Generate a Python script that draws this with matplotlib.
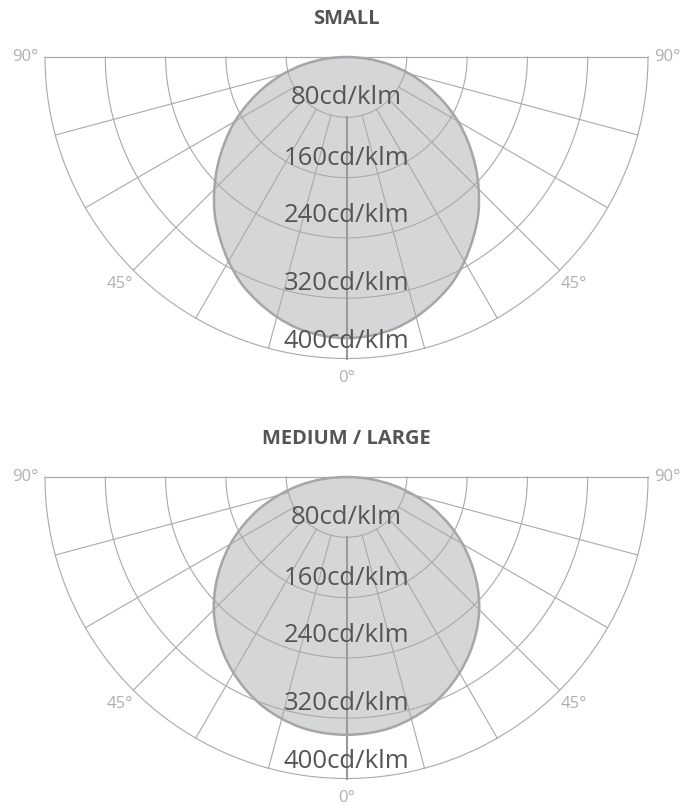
import numpy as np
import matplotlib
matplotlib.use("Agg")
import matplotlib.pyplot as plt
from matplotlib.path import Path
from matplotlib.patches import PathPatch

# ---- data ----
angles_deg = [0, 5, 10, 15, 20, 25, 30, 35, 40, 45, 50, 55, 60, 65, 70, 75, 80, 85, 90]
small_cd = [373, 371, 366, 357, 345, 331, 313, 293, 272, 248, 223, 197, 171, 143, 115, 87, 58, 29, 0]
medium_cd = [342, 341, 338, 332, 324, 313, 300, 285, 268, 249, 227, 203, 178, 151, 123, 93, 63, 32, 0]
ring_values = [80, 160, 240, 320, 400]
ring_labels = ["80cd/klm", "160cd/klm", "240cd/klm", "320cd/klm", "400cd/klm"]
spoke_angles = [-75, -60, -45, -30, -15, 0, 15, 30, 45, 60, 75]
angle_ticks = [-90, -45, 0, 45, 90]
angle_tick_labels = ["90°", "45°", "0°", "45°", "90°"]
titles = ["SMALL", "MEDIUM / LARGE"]
series = [small_cd, medium_cd]

# ---- style ----
FONT = ["Open Sans", "DejaVu Sans"]
GRID = "#a9a9a9"
FILL = "#d5d6d8"
EDGE = "#a6a6a8"
TXT = "#555558"
TICK = "#b0b0b0"
label_offsets = [26, 26, 30, 20, 23]

W, H = 700, 805
fig = plt.figure(figsize=(W / 100, H / 100), dpi=100)
px_per_cd = 60.3 / 80.0
cx_px = 346.5

panels = [(0, 400, 57), (400, 805, 477)]


def smooth_closed_path(xs, ys):
    """Catmull-Rom spline through the points, rendered as cubic Bezier segments."""
    pts = np.column_stack([xs, ys])
    n = len(pts)
    verts = [pts[0]]
    codes = [Path.MOVETO]
    for i in range(n):
        p0 = pts[(i - 1) % n]
        p1 = pts[i]
        p2 = pts[(i + 1) % n]
        p3 = pts[(i + 2) % n]
        c1 = p1 + (p2 - p0) / 6.0
        c2 = p2 - (p3 - p1) / 6.0
        verts += [c1, c2, p2]
        codes += [Path.CURVE4] * 3
    return Path(np.array(verts), codes)


for (top, bot, base), title, vals in zip(panels, titles, series):
    ax = fig.add_axes([0, 1 - bot / H, 1, (bot - top) / H])
    ax.set_xlim(-cx_px / px_per_cd, (W - cx_px) / px_per_cd)
    ax.set_ylim(-(bot - base) / px_per_cd, (base - top) / px_per_cd)
    ax.axis("off")

    rmax = ring_values[-1]
    th = np.radians(np.array(angles_deg, dtype=float))
    v = np.array(vals, dtype=float)
    # mirrored curve, drop duplicate 0 deg and the 90 deg origin duplicate
    th_full = np.concatenate([-th[::-1], th[1:-1]])
    v_full = np.concatenate([v[::-1], v[1:-1]])
    xs = v_full * np.sin(th_full)
    ys = -v_full * np.cos(th_full)
    path = smooth_closed_path(xs, ys)
    ax.add_patch(PathPatch(path, facecolor=FILL, edgecolor="none", zorder=1))
    ax.add_patch(PathPatch(path, facecolor="none", edgecolor=EDGE, lw=1.8, zorder=3))

    t = np.linspace(-np.pi / 2, np.pi / 2, 400)
    for r in ring_values:
        ax.plot(r * np.sin(t), -r * np.cos(t), color=GRID, lw=0.8, zorder=2)
    for a in spoke_angles:
        ar = np.radians(a)
        ax.plot([ring_values[0] * np.sin(ar), rmax * np.sin(ar)],
                [-ring_values[0] * np.cos(ar), -rmax * np.cos(ar)],
                color=("#9a9a9a" if a == 0 else GRID),
                lw=(1.5 if a == 0 else 0.8), zorder=2)
    ax.plot([-rmax, rmax], [0, 0], color=GRID, lw=0.9, zorder=2)

    for r, lab, off in zip(ring_values, ring_labels, label_offsets):
        ax.text(0, -(r - off), lab, ha="center", va="center", fontsize=18.5,
                color=TXT, family=FONT, zorder=5)

    for a, lab in zip(angle_ticks, angle_tick_labels):
        ar = np.radians(a)
        rr = 426
        ax.text(rr * np.sin(ar), -rr * np.cos(ar), lab, ha="center", va="center",
                fontsize=12, color=TICK, family=FONT, zorder=5)

    ax.text(0, 38 / px_per_cd, title, ha="center", va="center", fontsize=14.5,
            fontweight="bold", color="#555555", family=FONT)

fig.savefig("out.png", dpi=100)
